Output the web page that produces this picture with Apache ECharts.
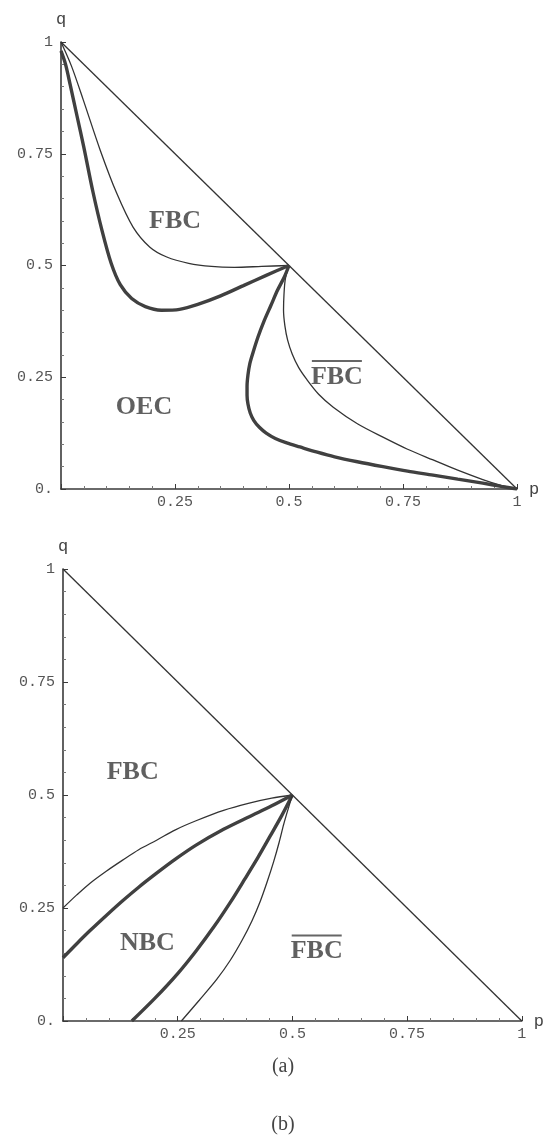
<!DOCTYPE html>
<html>
<head>
<meta charset="utf-8">
<script src="https://cdn.jsdelivr.net/npm/echarts@6/dist/echarts.min.js"></script>
<style>
  html, body { margin: 0; padding: 0; background: #fff; }
  #main { width: 545px; height: 1136px; }
</style>
</head>
<body>
<div id="main"></div>
<script>
// tick values and labels
const tickValues = [0, 0.25, 0.5, 0.75, 1];
const yTickLabels = ['0.', '0.25', '0.5', '0.75', '1'];
const xTickLabels = ['', '0.25', '0.5', '0.75', '1'];

// panel (a), upper plot: boundary curves as [p, q]
const diagonal = [[0, 1], [1, 0]];
const topThinUpper = [[0, 1], [0.023, 0.946], [0.049, 0.87], [0.086, 0.758], [0.122, 0.662], [0.158, 0.586], [0.195, 0.541], [0.232, 0.519], [0.28, 0.505], [0.33, 0.498], [0.38, 0.496], [0.44, 0.498], [0.5, 0.5]];
const topThickUpper = [[0, 0.98], [0.01, 0.95], [0.02, 0.905], [0.035, 0.835], [0.05, 0.765], [0.07, 0.665], [0.09, 0.578], [0.11, 0.505], [0.13, 0.457], [0.155, 0.426], [0.185, 0.408], [0.22, 0.4], [0.26, 0.402], [0.3, 0.413], [0.35, 0.432], [0.4, 0.455], [0.45, 0.478], [0.5, 0.5]];
const topThinLower = [[0.5, 0.5], [0.492, 0.47], [0.489, 0.435], [0.488, 0.4], [0.491, 0.365], [0.497, 0.333], [0.507, 0.302], [0.521, 0.272], [0.539, 0.245], [0.565, 0.212], [0.597, 0.183], [0.65, 0.146], [0.706, 0.116], [0.76, 0.089], [0.816, 0.065], [0.87, 0.042], [0.925, 0.021], [0.965, 0.008], [1, 0]];
const topThickLower = [[0.5, 0.5], [0.49, 0.475], [0.475, 0.445], [0.46, 0.41], [0.445, 0.375], [0.432, 0.34], [0.421, 0.305], [0.414, 0.28], [0.41, 0.255], [0.408, 0.23], [0.408, 0.21], [0.41, 0.19], [0.415, 0.17], [0.423, 0.153], [0.435, 0.138], [0.45, 0.125], [0.47, 0.113], [0.495, 0.103], [0.524, 0.094], [0.56, 0.083], [0.6, 0.072], [0.65, 0.061], [0.706, 0.05], [0.76, 0.04], [0.816, 0.031], [0.87, 0.022], [0.925, 0.013], [0.965, 0.006], [1, 0]];

// panel (a), lower plot
const botThinUpper = [[0, 0.25], [0.03, 0.279], [0.059, 0.305], [0.095, 0.332], [0.13, 0.356], [0.165, 0.379], [0.204, 0.4], [0.245, 0.423], [0.29, 0.443], [0.35, 0.466], [0.406, 0.482], [0.455, 0.493], [0.5, 0.5]];
const botThickUpper = [[0, 0.14], [0.03, 0.171], [0.059, 0.2], [0.095, 0.234], [0.13, 0.266], [0.165, 0.296], [0.204, 0.327], [0.245, 0.358], [0.29, 0.389], [0.35, 0.424], [0.406, 0.452], [0.455, 0.476], [0.5, 0.5]];
const botThickSteep = [[0.15, 0], [0.2, 0.05], [0.25, 0.105], [0.29, 0.155], [0.33, 0.21], [0.365, 0.263], [0.395, 0.312], [0.425, 0.362], [0.452, 0.41], [0.477, 0.455], [0.5, 0.5]];
const botThinSteep = [[0.258, 0], [0.297, 0.046], [0.335, 0.092], [0.365, 0.135], [0.39, 0.178], [0.412, 0.222], [0.43, 0.265], [0.445, 0.308], [0.459, 0.352], [0.471, 0.395], [0.481, 0.435], [0.491, 0.47], [0.5, 0.5]];

// region names: [text, p, q, overlined]
const topRegions = [['FBC', 0.25, 0.6, false], ['FBC', 0.605, 0.255, true], ['OEC', 0.182, 0.183, false]];
const botRegions = [['FBC', 0.152, 0.551, false], ['NBC', 0.184, 0.173, false], ['FBC', 0.553, 0.158, true]];

const ink = '#3a3a3a';
const monoFont = '"Liberation Mono", "DejaVu Sans Mono", monospace';
const serifFont = '"Liberation Serif", "DejaVu Serif", serif';

function makeX(gridIndex) {
    return {
        type: 'value', gridIndex, min: 0, max: 1, interval: 0.25,
        name: 'p', nameLocation: 'end', nameGap: 12,
        nameTextStyle: { fontFamily: monoFont, fontSize: 17, color: '#444', verticalAlign: 'middle' },
        axisLine: { lineStyle: { color: ink, width: 1.6 } },
        axisTick: { inside: true, length: 5, lineStyle: { color: ink } },
        minorTick: { show: true, splitNumber: 5, length: 3, lineStyle: { color: '#777' } },
        splitLine: { show: false },
        axisLabel: {
            fontFamily: monoFont, fontSize: 15, color: '#555', margin: 6,
            formatter: v => xTickLabels[tickValues.indexOf(+v.toFixed(2))]
        }
    };
}

function makeY(gridIndex) {
    return {
        type: 'value', gridIndex, min: 0, max: 1, interval: 0.25,
        name: 'q', nameLocation: 'end', nameGap: 14,
        nameTextStyle: { fontFamily: monoFont, fontSize: 17, color: '#444', align: 'center' },
        axisLine: { lineStyle: { color: ink, width: 1.6 } },
        axisTick: { inside: true, length: 5, lineStyle: { color: ink } },
        minorTick: { show: true, splitNumber: 5, length: 3, lineStyle: { color: '#777' } },
        splitLine: { show: false },
        axisLabel: {
            fontFamily: monoFont, fontSize: 15, color: '#555', margin: 8,
            formatter: v => yTickLabels[tickValues.indexOf(+v.toFixed(2))]
        }
    };
}

function curve(data, gi, thick) {
    return {
        type: 'line', xAxisIndex: gi, yAxisIndex: gi, data,
        showSymbol: false, smooth: 0.3, silent: true,
        lineStyle: { color: thick ? '#404040' : '#333', width: thick ? 3.4 : 1.3 }
    };
}

function regionSeries(list, gi) {
    return {
        type: 'scatter', xAxisIndex: gi, yAxisIndex: gi, symbolSize: 0, silent: true,
        data: list.map(r => ({ value: [r[1], r[2]], name: r[0], bar: r[3] })),
        label: {
            show: true, position: 'inside',
            formatter: p => (p.data.bar ? '{ov|}\n{t|' + p.name + '}' : '{t|' + p.name + '}'),
            rich: {
                t: { fontFamily: serifFont, fontWeight: 'bold', fontSize: 26, color: '#383838', lineHeight: 28 },
                ov: { width: 50, height: 2, lineHeight: 4, backgroundColor: '#404040' }
            }
        }
    };
}

const option = {
    backgroundColor: '#fff',
    animation: false,
    grid: [
        { left: 61, top: 42, width: 456, height: 447 },
        { left: 63, top: 569, width: 461, height: 452 }
    ],
    xAxis: [makeX(0), makeX(1)],
    yAxis: [makeY(0), makeY(1)],
    graphic: [
        { type: 'text', x: 283, y: 1067, style: { text: '(a)', font: '20px ' + serifFont, fill: '#444', align: 'center', verticalAlign: 'middle' } },
        { type: 'text', x: 283, y: 1125, style: { text: '(b)', font: '20px ' + serifFont, fill: '#444', align: 'center', verticalAlign: 'middle' } }
    ],
    series: [
        curve(diagonal, 0, false),
        curve(topThinUpper, 0, false),
        curve(topThickUpper, 0, true),
        curve(topThinLower, 0, false),
        curve(topThickLower, 0, true),
        regionSeries(topRegions, 0),
        curve(diagonal, 1, false),
        curve(botThinUpper, 1, false),
        curve(botThickUpper, 1, true),
        curve(botThickSteep, 1, true),
        curve(botThinSteep, 1, false),
        regionSeries(botRegions, 1)
    ]
};

const myChart = echarts.init(document.getElementById('main'));
myChart.setOption(option);
</script>
</body>
</html>
